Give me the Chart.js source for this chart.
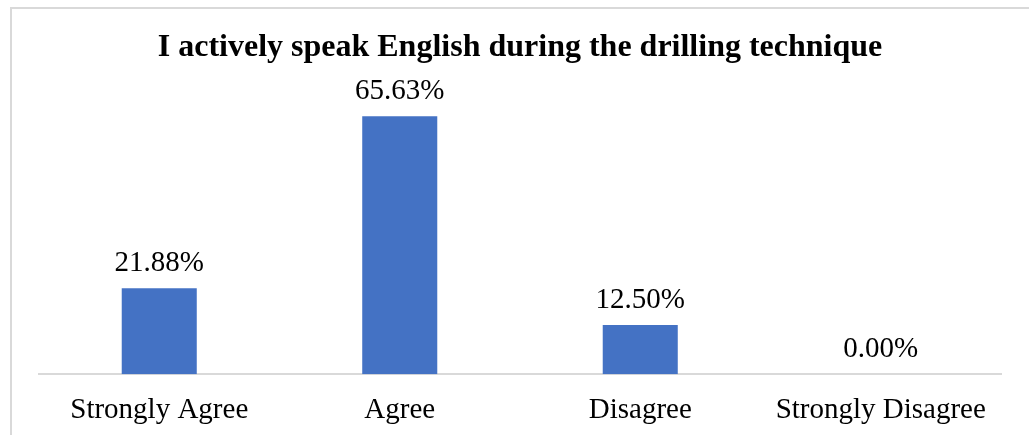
<!DOCTYPE html>
<html>
<head>
<meta charset="utf-8">
<script src="https://cdn.jsdelivr.net/npm/chart.js@4/dist/chart.umd.min.js"></script>
<style>
  html, body { margin: 0; padding: 0; background: #fff; overflow: hidden; }
  #frame {
    position: absolute; left: 10px; top: 7px;
    width: 1040px; height: 460px;
    border: 2px solid #d9d9d9; box-sizing: border-box;
  }
  #wrap { position: absolute; left: 0; top: 0; width: 1029px; height: 447px; }
</style>
</head>
<body>
<div id="frame"></div>
<div id="wrap"><canvas id="chart"></canvas></div>
<script>
var categories = ['Strongly Agree', 'Agree', 'Disagree', 'Strongly Disagree'];
var percentages = [21.88, 65.63, 12.50, 0.00];
var chartTitle = 'I actively speak English during the drilling technique';

var serif = '"Liberation Serif", "Times New Roman", serif';

// writes the percentage above every bar
var valueLabels = {
    id: 'valueLabels',
    afterDatasetsDraw: function (chart) {
        var ctx = chart.ctx;
        var meta = chart.getDatasetMeta(0);
        ctx.save();
        ctx.font = '29px ' + serif;
        ctx.fillStyle = '#000';
        ctx.textAlign = 'center';
        ctx.textBaseline = 'alphabetic';
        meta.data.forEach(function (bar, i) {
            ctx.fillText(percentages[i].toFixed(2) + '%', bar.x, bar.y - 17);
        });
        ctx.restore();
    }
};

new Chart(document.getElementById('chart'), {
    type: 'bar',
    data: {
        labels: categories,
        datasets: [{
            data: percentages,
            backgroundColor: '#4472c4',
            borderWidth: 0,
            categoryPercentage: 1,
            barPercentage: 0.312
        }]
    },
    options: {
        responsive: true,
        maintainAspectRatio: false,
        animation: false,
        layout: { padding: { left: 39, right: 28, top: 0, bottom: 0 } },
        plugins: {
            legend: { display: false },
            tooltip: { enabled: false },
            title: {
                display: true,
                text: chartTitle,
                color: '#000',
                font: { family: serif, size: 32, weight: 'bold' },
                padding: { top: 29, bottom: 31.6 }
            }
        },
        scales: {
            x: {
                grid: { display: false, drawTicks: false },
                border: { display: true, color: '#d9d9d9', width: 2 },
                ticks: {
                    color: '#000',
                    font: { family: serif, size: 29 },
                    padding: 19,
                    maxRotation: 0,
                    autoSkip: false
                }
            },
            y: {
                display: false,
                min: 0,
                max: 70
            }
        }
    },
    plugins: [valueLabels]
});
</script>
</body>
</html>
